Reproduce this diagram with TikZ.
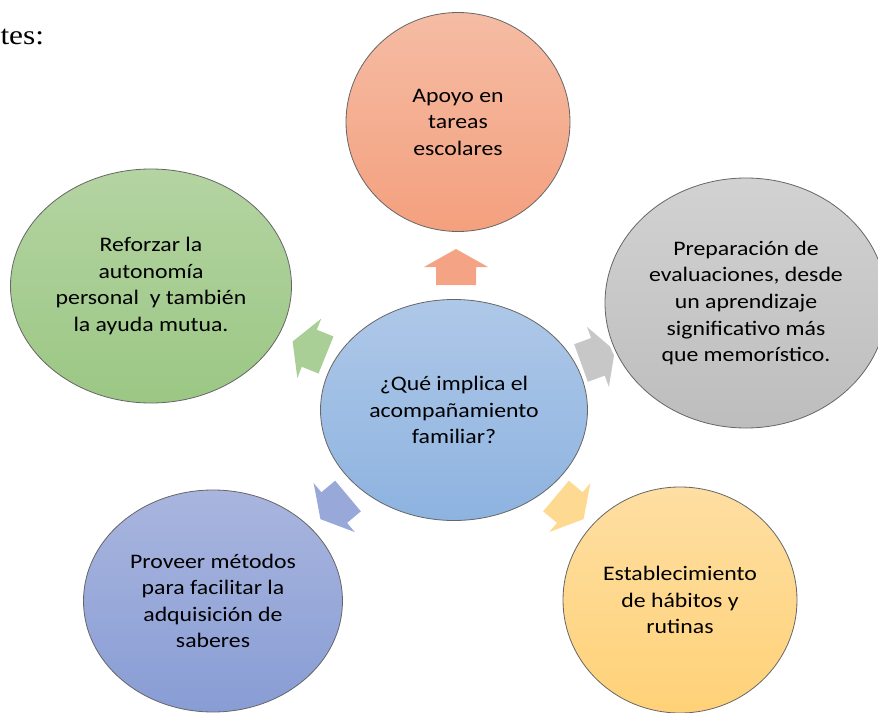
\documentclass[tikz,border=0pt]{standalone}
\usepackage{fontspec}
\setmainfont{Carlito}[FakeStretch=1.15]
\newfontfamily\pageserif{Liberation Serif}[FakeStretch=1.15]
\usetikzlibrary{shapes.geometric}

\definecolor{salmonTop}{HTML}{F5BCA4}
\definecolor{salmonBot}{HTML}{F4A07E}
\definecolor{greenTop}{HTML}{B4D4A2}
\definecolor{greenBot}{HTML}{9BC784}
\definecolor{grayTop}{HTML}{D2D2D2}
\definecolor{grayBot}{HTML}{BDBDBD}
\definecolor{skyTop}{HTML}{AFC8E8}
\definecolor{skyBot}{HTML}{8DB3E0}
\definecolor{lilacTop}{HTML}{A9B5DE}
\definecolor{lilacBot}{HTML}{889DD5}
\definecolor{sunTop}{HTML}{FEDEA2}
\definecolor{sunBot}{HTML}{FFD278}

\tikzset{every picture/.style={line width=0.75pt}}
\tikzset{
  bubble/.style={ellipse, draw=black!60, line width=0.6pt,
    preaction={draw=white, line width=5pt},
    inner sep=0pt, align=center,
    font=\fontsize{15.5}{19.9}\selectfont},
  pics/blockarrow/.style={code={
    \fill[pic actions] (0,-20) -- (18,-20) -- (18,-32) -- (36,0) -- (18,32) -- (18,20) -- (0,20) -- cycle;
  }}
}

\begin{document}
\begin{tikzpicture}[x=0.75pt,y=0.75pt,yscale=-1,xscale=1]
\useasboundingbox (0,0) rectangle (878,713);

% Text Node
\node[anchor=base west, inner sep=0pt, font=\pageserif\fontsize{20.5}{24}\selectfont] (intro) at (0,45) {tes:};

%Shape: Block Arrows
\pic[fill=salmonBot!85!salmonTop, rotate=90] (arrTareas) at (456,285) {blockarrow};
\pic[fill=greenTop!60!greenBot, rotate=158] (arrAutonomia) at (326,355) {blockarrow};
\pic[fill=grayTop!50!grayBot, rotate=20] (arrEvaluaciones) at (581,363) {blockarrow};
\pic[fill=lilacTop!50!lilacBot, rotate=-140] (arrMetodos) at (348,496) {blockarrow};
\pic[fill=sunTop!60!sunBot, rotate=-40] (arrHabitos) at (556,496) {blockarrow};

%Shape: Ellipses
\node[bubble, top color=skyTop, bottom color=skyBot, minimum width=200.25pt, minimum height=165.75pt] (pregunta) at (454,410) {¿Qué implica el\\acompañamiento\\familiar?};
\node[bubble, top color=salmonTop, bottom color=salmonBot, minimum width=168pt, minimum height=164.25pt] (tareas) at (458,122) {Apoyo en\\tareas\\escolares};
\node[bubble, top color=greenTop, bottom color=greenBot, minimum width=210.75pt, minimum height=175.5pt] (autonomia) at (151,286) {Reforzar la\\autonomía\\personal\ \ y también\\la ayuda mutua.};
\node[bubble, top color=grayTop, bottom color=grayBot, minimum width=211.5pt, minimum height=187.5pt] (evaluaciones) at (746,303) {Preparación de\\evaluaciones, desde\\un aprendizaje\\significativo más\\que memorístico.};
\node[bubble, top color=lilacTop, bottom color=lilacBot, minimum width=194.25pt, minimum height=166.5pt] (metodos) at (213,601) {Proveer métodos\\para facilitar la\\adquisición de\\saberes};
\node[bubble, top color=sunTop, bottom color=sunBot, minimum width=175.5pt, minimum height=169.5pt] (habitos) at (680,600) {Establecimiento\\de hábitos y\\rutinas};

\end{tikzpicture}
\end{document}
